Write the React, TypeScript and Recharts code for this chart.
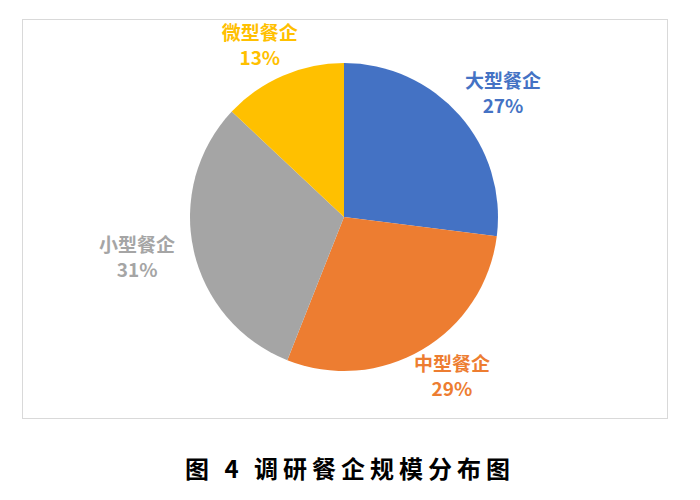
import { PieChart, Pie, Cell } from 'recharts';

const categories = ['大型餐企', '中型餐企', '小型餐企', '微型餐企'];
const shares = [27, 29, 31, 13];
const colors = ['#4472C4', '#ED7D31', '#A5A5A5', '#FFC000'];

const data = categories.map((name, i) => ({ name, value: shares[i] }));

const RADIAN = Math.PI / 180;

// label box sits just outside the slice, pushed out by half its size
function renderLabel(props: any) {
  const { cx, cy, midAngle, outerRadius, index } = props;
  const cos = Math.cos(-midAngle * RADIAN);
  const sin = Math.sin(-midAngle * RADIAN);
  const r = outerRadius + 10;
  const x = cx + r * cos + 48 * cos;
  const y = cy + r * sin + 22 * sin;
  return (
    <text
      x={x}
      y={y}
      fill={colors[index]}
      textAnchor="middle"
      fontSize={19}
      fontWeight="bold"
      fontFamily="'Noto Sans CJK SC', sans-serif"
    >
      <tspan x={x} dy={-6}>
        {categories[index]}
      </tspan>
      <tspan x={x} dy={25}>
        {shares[index]}%
      </tspan>
    </text>
  );
}

export default function App() {
  return (
    <div
      style={{
        position: 'absolute',
        left: 0,
        top: 0,
        width: 700,
        height: 500,
        background: '#fff',
      }}
    >
      {/* Chart frame */}
      <div
        style={{
          position: 'absolute',
          left: 22,
          top: 19,
          width: 646,
          height: 400,
          border: '1px solid #d9d9d9',
          boxSizing: 'border-box',
        }}
      />

      {/* Pie drawn over the frame */}
      <div style={{ position: 'absolute', left: 0, top: 0 }}>
        <PieChart
          width={700}
          height={440}
          margin={{ top: 0, right: 0, bottom: 0, left: 0 }}
        >
          <Pie
            data={data}
            dataKey="value"
            cx={344}
            cy={217}
            outerRadius={154}
            startAngle={90}
            endAngle={-270}
            stroke="none"
            label={renderLabel}
            labelLine={false}
            isAnimationActive={false}
          >
            {data.map((d, i) => (
              <Cell key={d.name} fill={colors[i]} />
            ))}
          </Pie>
        </PieChart>
      </div>

      {/* Caption */}
      <div
        style={{
          position: 'absolute',
          left: 0,
          top: 452,
          width: 700,
          textAlign: 'center',
          fontSize: 24,
          lineHeight: '32px',
          fontWeight: 'bold',
          letterSpacing: 5,
          fontFamily: "'Noto Sans CJK SC', serif",
          color: '#000',
        }}
      >
        图 4 调研餐企规模分布图
      </div>
    </div>
  );
}
